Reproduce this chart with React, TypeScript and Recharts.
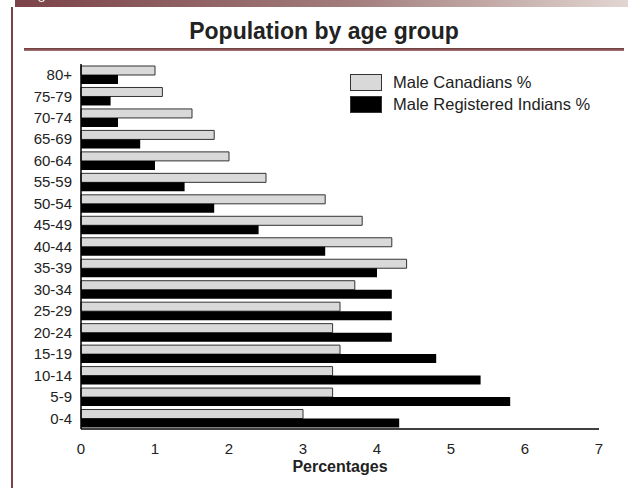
import { Bar, BarChart, Label, Legend, XAxis, YAxis } from "recharts";

const ageGroups = [
  "80+", "75-79", "70-74", "65-69", "60-64", "55-59", "50-54", "45-49", "40-44",
  "35-39", "30-34", "25-29", "20-24", "15-19", "10-14", "5-9", "0-4",
];
const maleCanadians = [1.0, 1.1, 1.5, 1.8, 2.0, 2.5, 3.3, 3.8, 4.2, 4.4, 3.7, 3.5, 3.4, 3.5, 3.4, 3.4, 3.0];
const maleRegisteredIndians = [0.5, 0.4, 0.5, 0.8, 1.0, 1.4, 1.8, 2.4, 3.3, 4.0, 4.2, 4.2, 4.2, 4.8, 5.4, 5.8, 4.3];
const xTicks = [0, 1, 2, 3, 4, 5, 6, 7];

const data = ageGroups.map((age, i) => ({
  age,
  canadians: maleCanadians[i],
  indians: maleRegisteredIndians[i],
}));

const font = "'Liberation Sans', Arial, Helvetica, sans-serif";

function LegendBox(props: any) {
  const items = props.payload ?? [];
  return (
    <div style={{ fontFamily: font, fontSize: 16.5, color: "#222" }}>
      {items.map((item: any) => (
        <div key={item.value} style={{ display: "flex", alignItems: "center", height: 16, marginBottom: 6 }}>
          <span
            style={{
              display: "inline-block",
              width: 30,
              height: 15,
              background: item.color,
              border: "1px solid #333",
              marginRight: 11,
            }}
          />
          <span style={{ lineHeight: "16px" }}>{item.value}</span>
        </div>
      ))}
    </div>
  );
}

export default function App() {
  return (
    <div
      style={{
        position: "absolute",
        left: 0,
        top: 0,
        width: 628,
        height: 488,
        background: "#fff",
        overflow: "hidden",
        fontFamily: font,
      }}
    >
      {/* header strip */}
      <div
        style={{
          position: "absolute",
          left: 15,
          top: 0,
          width: 613,
          height: 7,
          background: "linear-gradient(to right, #7b4347, #a27d7c 55%, #e2d6d2)",
          overflow: "hidden",
        }}
      >
        {/* tail of a clipped glyph in the strip */}
        <div
          style={{
            position: "absolute",
            left: 23,
            top: -2,
            width: 5,
            height: 3,
            borderLeft: "1.5px solid #fff",
            borderRight: "1.5px solid #fff",
            borderBottom: "1.5px solid #fff",
            borderRadius: "0 0 4px 4px",
          }}
        />
      </div>
      <div style={{ position: "absolute", left: 11, top: 7, width: 1.5, height: 481, background: "#7b4347" }} />
      <div
        style={{
          position: "absolute",
          left: 24,
          top: 19.5,
          width: 600,
          textAlign: "center",
          fontSize: 23,
          lineHeight: "23px",
          fontWeight: "bold",
          color: "#222",
        }}
      >
        Population by age group
      </div>
      <div
        style={{
          position: "absolute",
          left: 24,
          top: 48,
          width: 600,
          height: 3,
          background: "linear-gradient(to bottom, #6a3538, #a87878)",
        }}
      />

      <div style={{ position: "absolute", left: 0, top: 0 }}>
        <BarChart
          width={628}
          height={488}
          data={data}
          layout="vertical"
          margin={{ top: 64, right: 29, bottom: 14, left: 0 }}
          barSize={9}
          barGap={0}
        >
          <XAxis
            type="number"
            domain={[0, 7]}
            ticks={xTicks}
            tickLine={false}
            tickSize={6}
            tickMargin={8}
            height={45}
            axisLine={{ stroke: "#000", strokeWidth: 1.5 }}
            tick={{ fill: "#222", fontSize: 15, fontFamily: font }}
          >
            <Label
              value="Percentages"
              position="insideBottom"
              offset={2}
              style={{ fill: "#222", fontSize: 16, fontWeight: "bold", fontFamily: font }}
            />
          </XAxis>
          <YAxis
            type="category"
            dataKey="age"
            width={81}
            tickLine={false}
            tickSize={6}
            tickMargin={3}
            interval={0}
            axisLine={{ stroke: "#000", strokeWidth: 1.5 }}
            tick={{ fill: "#222", fontSize: 15, fontFamily: font }}
          />
          <Legend
            layout="vertical"
            align="center"
            verticalAlign="middle"
            wrapperStyle={{ top: 74, left: 350, width: 270, height: 50 }}
            content={LegendBox}
          />
          <Bar
            dataKey="canadians"
            name="Male Canadians %"
            fill="#d9d9d9"
            stroke="#333"
            strokeWidth={1}
            isAnimationActive={false}
          />
          <Bar
            dataKey="indians"
            name="Male Registered Indians %"
            fill="#000"
            isAnimationActive={false}
          />
        </BarChart>
      </div>
    </div>
  );
}
